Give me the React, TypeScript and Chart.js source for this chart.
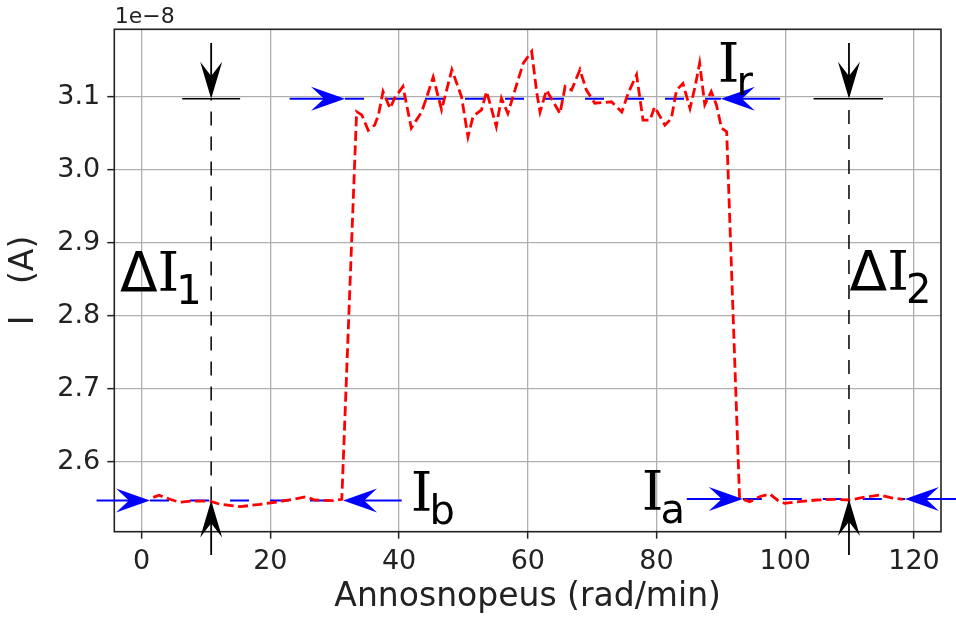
import React, { useEffect, useRef } from 'react';
import { Chart, registerables } from 'chart.js';

Chart.register(...registerables);

// ---- data (x: rad/min, y: current in units of 1e-8 A) ----
const SPEED = [
  1.8, 2.7, 4.4, 5.9, 7.8, 10.6, 12.2, 15.3, 18.4, 21.0,
  23.5, 25.6, 26.9, 29.8, 31.1, 33.4, 34.2, 35.2, 36.2, 36.8,
  37.5, 38.6, 39.3, 40.6, 41.9, 43.5, 44.5, 45.3, 46.6, 48.2,
  49.7, 50.7, 51.5, 52.8, 53.6, 54.4, 55.1, 55.9, 56.9, 58.0,
  59.3, 60.6, 61.4, 61.9, 62.9, 65.0, 65.8, 66.8, 68.1, 69.1,
  70.4, 73.0, 74.6, 75.6, 76.9, 77.9, 79.0, 79.7, 81.3, 82.3,
  83.1, 84.1, 85.2, 86.0, 86.7, 87.5, 88.5, 89.3, 90.1, 90.9,
  92.9, 94.5, 96.0, 97.6, 98.9, 99.9, 102.2, 104.8, 107.4, 110.0,
  112.1, 114.7, 116.7, 118.3,
];
const CURRENT = [
  2.5512, 2.554, 2.5485, 2.5444, 2.546, 2.546, 2.5416, 2.5384, 2.5416, 2.5448,
  2.5485, 2.552, 2.5475, 2.5466, 2.5485, 3.0795, 3.075, 3.054, 3.061, 3.075,
  3.107, 3.084, 3.098, 3.114, 3.057, 3.079, 3.105, 3.127, 3.082, 3.137,
  3.100, 3.045, 3.073, 3.082, 3.107, 3.082, 3.059, 3.098, 3.077, 3.109,
  3.146, 3.162, 3.105, 3.079, 3.109, 3.077, 3.114, 3.109, 3.137, 3.109,
  3.091, 3.093, 3.079, 3.105, 3.130, 3.068, 3.068, 3.086, 3.061, 3.070,
  3.109, 3.118, 3.084, 3.114, 3.146, 3.089, 3.107, 3.089, 3.057, 3.052,
  2.5499, 2.5452, 2.552, 2.5557, 2.5466, 2.543, 2.5452, 2.5475, 2.5485, 2.5475,
  2.551, 2.5543, 2.550, 2.5485,
];

const X_TICKS = [0, 20, 40, 60, 80, 100, 120];
const Y_TICKS = [2.6, 2.7, 2.8, 2.9, 3.0, 3.1];
const X_RANGE = [-4.25, 124.2];
const Y_RANGE = [2.5041, 3.1923];
const Y_EXPONENT = '1e\u22128';

const X_TITLE = 'Annosnopeus (rad/min)';
const Y_TITLE = 'I   (A)';

// fitted levels
const LEVEL_B = 2.547;
const LEVEL_R = 3.097;
const LEVEL_A = 2.549;
const MARK_X = [10.8, 109.9];

// [x0, x1, y]
const LEVEL_LINES = [
  [1.3, 31.3, LEVEL_B],
  [31.6, 90.0, LEVEL_R],
  [93.4, 118.6, LEVEL_A],
];
// [x, y0, y1]
const DELTA_LINES = [
  [MARK_X[0], LEVEL_B, LEVEL_R],
  [MARK_X[1], LEVEL_A, LEVEL_R],
];
// [x0, x1, y]
const CAP_LINES = [
  [6.3, 15.3, LEVEL_R],
  [104.4, 115.2, LEVEL_R],
];
// [tailX, tailY, tipX, tipY]
const BLUE_ARROWS = [
  [-7.0, LEVEL_B, 1.3, LEVEL_B],
  [40.4, LEVEL_B, 31.3, LEVEL_B],
  [23.0, LEVEL_R, 31.6, LEVEL_R],
  [99.2, LEVEL_R, 90.0, LEVEL_R],
  [84.7, LEVEL_A, 93.4, LEVEL_A],
  [128.0, LEVEL_A, 118.6, LEVEL_A],
];
const BLACK_ARROWS = [
  [MARK_X[0], 3.1736, MARK_X[0], LEVEL_R],
  [MARK_X[0], 2.4722, MARK_X[0], LEVEL_B],
  [MARK_X[1], 3.1736, MARK_X[1], LEVEL_R],
  [MARK_X[1], 2.4722, MARK_X[1], LEVEL_A],
];
// labels: prefix, main, subscript, anchor (x, y baseline)
const LABEL_PRE = ['\u0394', '\u0394', '', '', ''];
const LABEL_MAIN = ['I', 'I', 'I', 'I', 'I'];
const LABEL_SUB = ['1', '2', 'r', 'b', 'a'];
const LABEL_X = [-3.37, 110.0, 89.5, 41.8, 77.7];
const LABEL_Y = [2.8342, 2.835, 3.1205, 2.5329, 2.5338];

function drawArrow(ctx: CanvasRenderingContext2D, x0: number, y0: number, x1: number, y1: number,
  color: string, lw: number, L: number, W: number) {
  const dx = x1 - x0, dy = y1 - y0;
  const len = Math.hypot(dx, dy) || 1;
  const ux = dx / len, uy = dy / len;
  const px = -uy, py = ux;
  ctx.save();
  ctx.setLineDash([]);
  ctx.strokeStyle = color;
  ctx.fillStyle = color;
  ctx.lineWidth = lw;
  ctx.beginPath();
  ctx.moveTo(x0, y0);
  ctx.lineTo(x1 - ux * L * 0.5, y1 - uy * L * 0.5);
  ctx.stroke();
  const bx = x1 - ux * L, by = y1 - uy * L;
  const nx = x1 - ux * L * 0.62, ny = y1 - uy * L * 0.62;
  ctx.beginPath();
  ctx.moveTo(x1, y1);
  ctx.lineTo(bx + px * W / 2, by + py * W / 2);
  ctx.lineTo(nx, ny);
  ctx.lineTo(bx - px * W / 2, by - py * W / 2);
  ctx.closePath();
  ctx.fill();
  ctx.restore();
}

const annotationPlugin = {
  id: 'annot',
  beforeDatasetsDraw(chart: any) {
    const { ctx, chartArea: a } = chart;
    ctx.save();
    ctx.strokeStyle = '#222';
    ctx.lineWidth = 1.6;
    ctx.setLineDash([]);
    ctx.strokeRect(a.left, a.top, a.right - a.left, a.bottom - a.top);
    ctx.restore();
  },
  afterDatasetsDraw(chart: any) {
    const { ctx, chartArea: a } = chart;
    const xs = chart.scales.x, ys = chart.scales.y;
    BLUE_ARROWS.forEach(([tx, ty, hx, hy]) => {
      drawArrow(ctx, xs.getPixelForValue(tx), ys.getPixelForValue(ty),
        xs.getPixelForValue(hx), ys.getPixelForValue(hy), '#0000ff', 2, 34, 24);
    });
    BLACK_ARROWS.forEach(([tx, ty, hx, hy]) => {
      drawArrow(ctx, xs.getPixelForValue(tx), ys.getPixelForValue(ty),
        xs.getPixelForValue(hx), ys.getPixelForValue(hy), '#000000', 1.8, 37, 22);
    });
    ctx.save();
    ctx.fillStyle = '#000';
    ctx.textAlign = 'left';
    ctx.textBaseline = 'alphabetic';
    for (let i = 0; i < LABEL_MAIN.length; i++) {
      let x = xs.getPixelForValue(LABEL_X[i]);
      const y = ys.getPixelForValue(LABEL_Y[i]);
      if (LABEL_PRE[i]) {
        ctx.font = '55px "DejaVu Sans"';
        ctx.fillText(LABEL_PRE[i], x, y);
        x += ctx.measureText(LABEL_PRE[i]).width;
      }
      ctx.font = '55px "DejaVu Serif"';
      ctx.fillText(LABEL_MAIN[i], x, y);
      x += ctx.measureText(LABEL_MAIN[i]).width;
      ctx.font = '40px "DejaVu Sans"';
      ctx.fillText(LABEL_SUB[i], x - 3, y + 13);
    }
    // exponent text
    ctx.font = '22px "DejaVu Sans"';
    ctx.fillStyle = '#222';
    ctx.fillText(Y_EXPONENT, a.left + 0.5, a.top - 6);
    ctx.restore();
  },
};

export default function App() {
  const ref = useRef<HTMLCanvasElement | null>(null);
  useEffect(() => {
    if (!ref.current) return;
    Chart.defaults.font.family = '"DejaVu Sans"';
    const datasets: any[] = [];
    datasets.push({
      data: SPEED.map((x, i) => ({ x, y: CURRENT[i] })),
      borderColor: '#ff0000',
      borderWidth: 2.8,
      borderDash: [10, 4.5],
      pointRadius: 0,
      tension: 0,
      fill: false,
    });
    LEVEL_LINES.forEach(([x0, x1, y]) => datasets.push({
      data: [{ x: x0, y }, { x: x1, y }],
      borderColor: '#0000ff', borderWidth: 2, borderDash: [19, 21],
      pointRadius: 0, fill: false, clip: false,
    }));
    DELTA_LINES.forEach(([x, y0, y1]) => datasets.push({
      data: [{ x, y: y0 }, { x, y: y1 }],
      borderColor: '#000000', borderWidth: 1.5, borderDash: [14, 11],
      pointRadius: 0, fill: false, clip: false,
    }));
    CAP_LINES.forEach(([x0, x1, y]) => datasets.push({
      data: [{ x: x0, y }, { x: x1, y }],
      borderColor: '#000000', borderWidth: 1.5,
      pointRadius: 0, fill: false, clip: false,
    }));

    const chart = new Chart(ref.current, {
      type: 'line',
      data: { datasets },
      options: {
        responsive: false,
        devicePixelRatio: 1,
        animation: false,
        events: [],
        layout: { padding: { left: 0, top: 29.3, right: 15, bottom: 0 } },
        plugins: { legend: { display: false }, tooltip: { enabled: false }, title: { display: false } },
        scales: {
          x: {
            type: 'linear',
            min: X_RANGE[0],
            max: X_RANGE[1],
            afterBuildTicks: (s: any) => { s.ticks = X_TICKS.map((v) => ({ value: v })); },
            afterFit: (s: any) => { s.height = 87.3; },
            ticks: {
              color: '#222', font: { size: 27 }, padding: 7, maxRotation: 0, autoSkip: false,
              callback: (v: any) => String(v),
            },
            grid: { color: '#b0b0b0', lineWidth: 1.3, tickColor: '#222', tickWidth: 1.5, tickLength: 7, drawTicks: true },
            border: { display: false },
            title: { display: true, text: X_TITLE, color: '#222', font: { size: 33 }, padding: { top: 0, bottom: 1.5 } },
          },
          y: {
            type: 'linear',
            min: Y_RANGE[0],
            max: Y_RANGE[1],
            afterBuildTicks: (s: any) => { s.ticks = Y_TICKS.map((v) => ({ value: v })); },
            afterFit: (s: any) => { s.width = 114.3; },
            ticks: {
              color: '#222', font: { size: 27 }, padding: 7, autoSkip: false,
              callback: (v: any) => Number(v).toFixed(1),
            },
            grid: { color: '#b0b0b0', lineWidth: 1.3, tickColor: '#222', tickWidth: 1.5, tickLength: 7, drawTicks: true },
            border: { display: false },
            title: { display: true, text: Y_TITLE, color: '#222', font: { size: 33 }, padding: { top: 4.4, bottom: 0 } },
          },
        },
      },
      plugins: [annotationPlugin],
    } as any);
    return () => chart.destroy();
  }, []);
  return (
    <div style={{ position: 'fixed', left: 0, top: 0, width: 956, height: 619, background: '#fff' }}>
      <canvas ref={ref} width={956} height={619} style={{ display: 'block', width: 956, height: 619 }} />
    </div>
  );
}
